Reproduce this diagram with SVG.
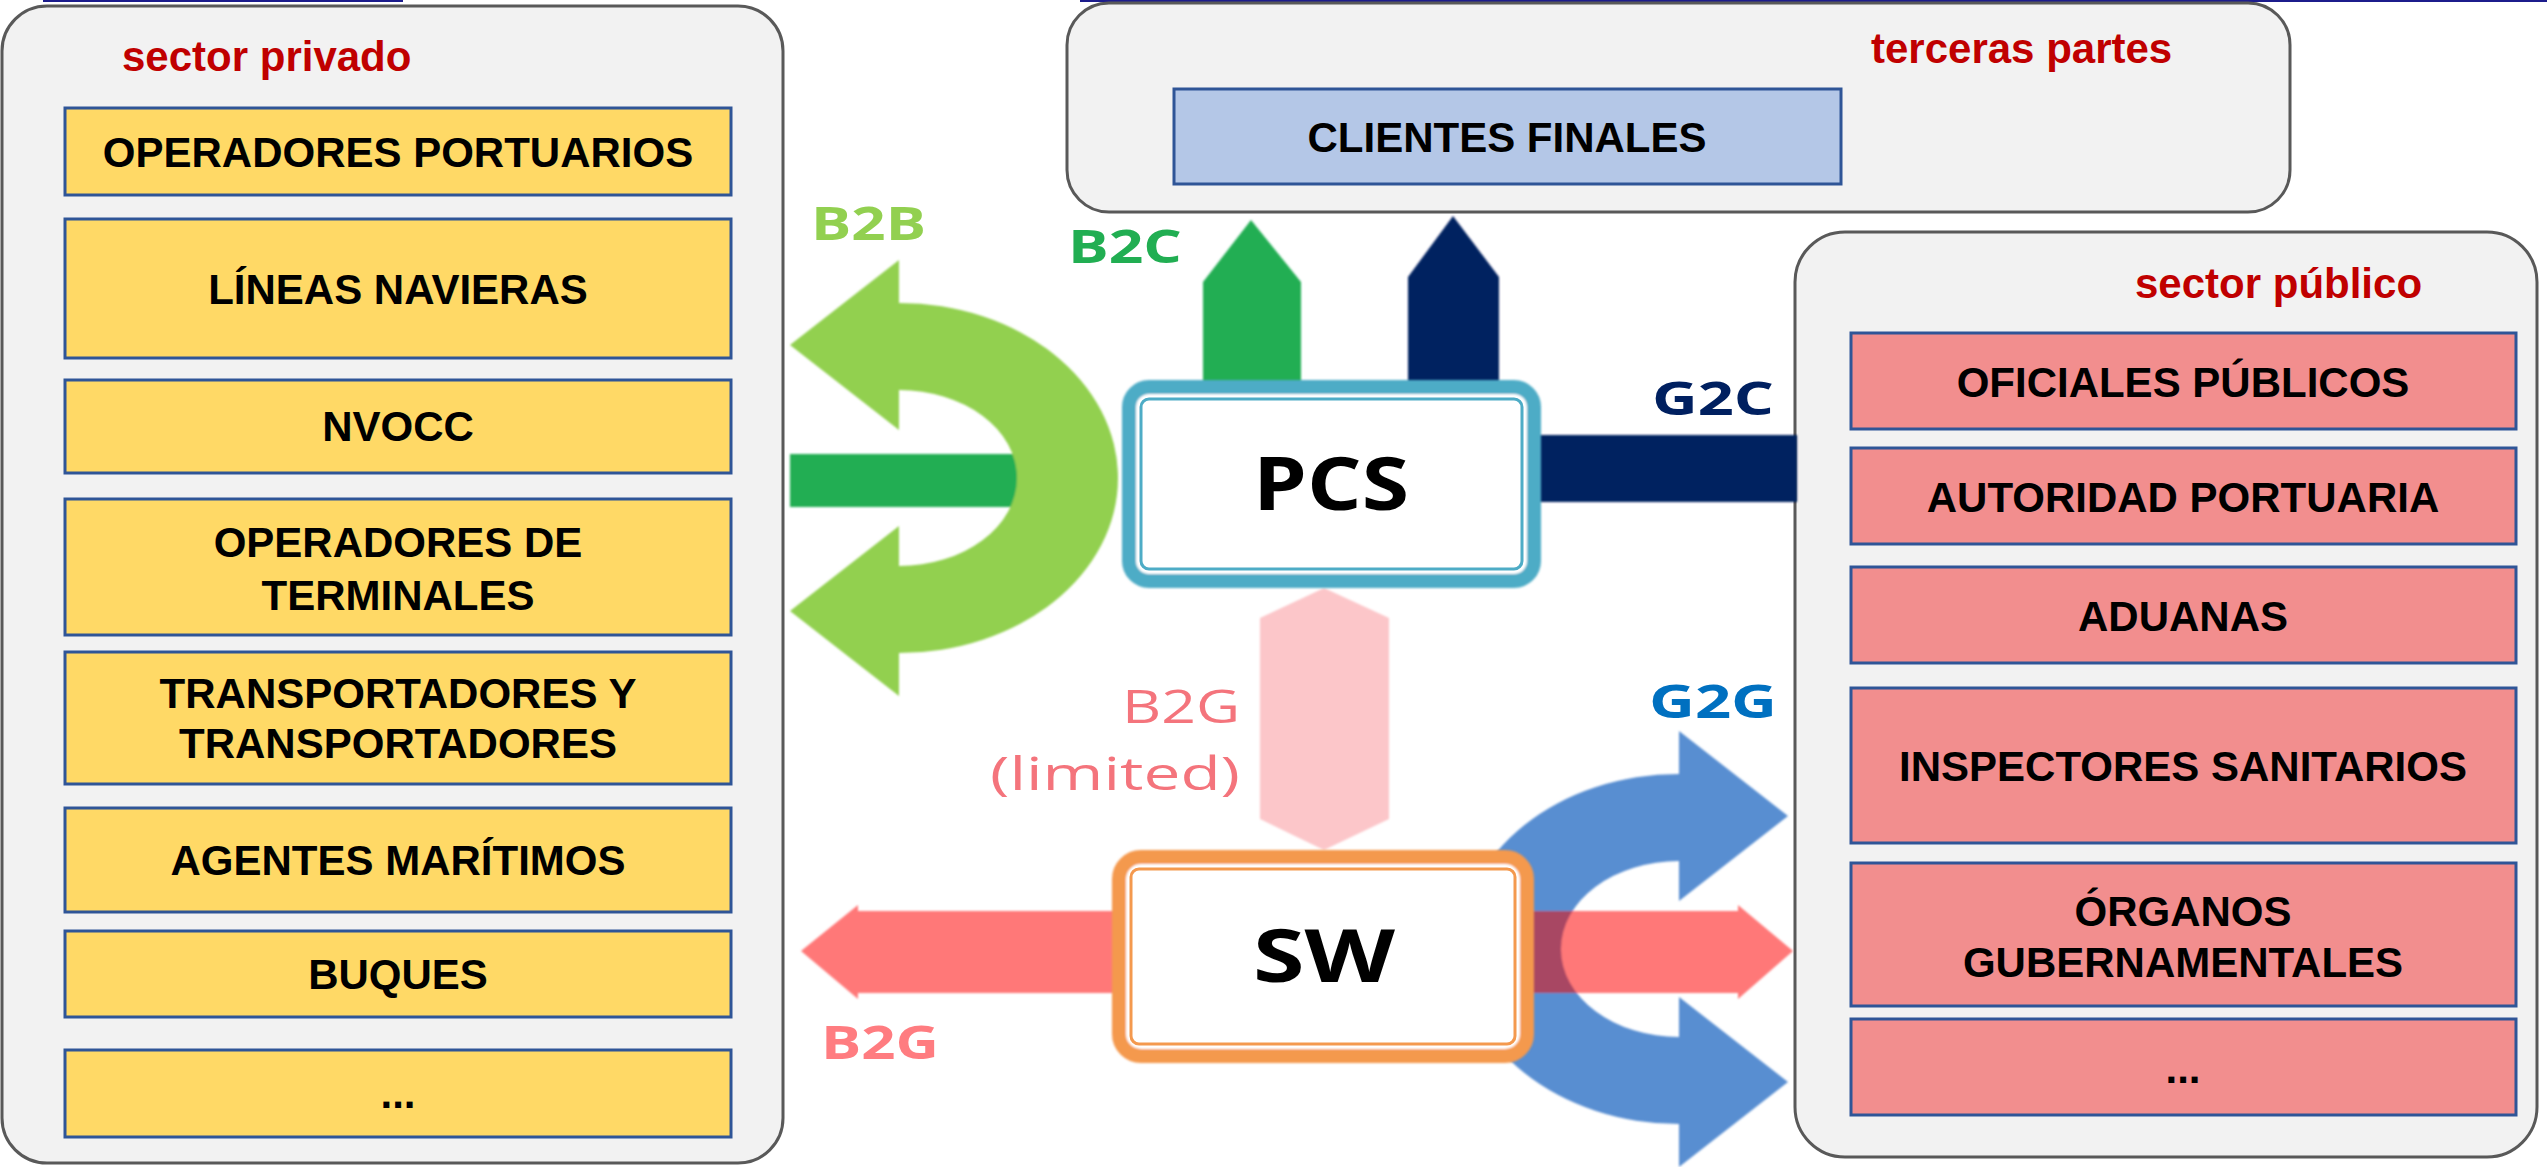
<svg xmlns="http://www.w3.org/2000/svg" xmlns:xlink="http://www.w3.org/1999/xlink" width="2547" height="1167" viewBox="0 0 2547 1167">
  <style>
    .panel { fill: #f2f2f2; stroke: #595959; stroke-width: 3; }
    .ybox { fill: #ffd966; stroke: #2f5597; stroke-width: 3; }
    .pbox { fill: #f28e8e; stroke: #2f5597; stroke-width: 3; }
    .bbox { fill: #b4c7e7; stroke: #2f5597; stroke-width: 3; }
    .lbl { font-family: "Liberation Sans", Arial, sans-serif; font-weight: 700; font-size: 42px; fill: #000; text-anchor: middle; }
    .sect { font-family: "Liberation Sans", Arial, sans-serif; font-weight: 700; font-size: 42px; fill: #c00000; }
    .tag { font-family: "Open Sans", "DejaVu Sans", sans-serif; font-weight: 700; font-size: 46px; }
    .tagr { font-family: "Open Sans", "DejaVu Sans", sans-serif; font-weight: 400; font-size: 46px; }
    .hub { font-family: "Open Sans", "DejaVu Sans", sans-serif; font-weight: 700; font-size: 74px; fill: #000; }
  </style>
  <defs>
    <!-- U-turn double arrow, bulging right, both heads pointing left -->
    <path id="uturn" d="M 899 303 A 219 175 0 0 1 899 653 L 899 696 L 790 611 L 899 526 L 899 566 A 118 88 0 0 0 899 390 L 899 430 L 790 345 L 899 260 Z"/>
    <clipPath id="g2gClip">
      <use xlink:href="#uturn" transform="translate(2578,471) scale(-1,1)"/>
    </clipPath>
    <filter id="soft" x="-5%" y="-5%" width="110%" height="110%">
      <feGaussianBlur stdDeviation="0.9"/>
    </filter>
  </defs>

  <rect width="2547" height="1167" fill="#ffffff"/>
  <!-- thin rules along the top edge -->
  <rect x="43" y="0" width="360" height="2" fill="#1c1c8c"/>
  <rect x="1080" y="0" width="1467" height="2" fill="#1c1c8c"/>

  <!-- private sector -->
  <g id="sector-privado">
    <rect class="panel" x="2" y="6" width="781" height="1157" rx="45"/>
    <text class="sect" x="122" y="71">sector privado</text>
  </g>
  <g id="operadores-portuarios">
    <rect class="ybox" x="65" y="108" width="666" height="87"/>
    <text class="lbl" x="398" y="167">OPERADORES PORTUARIOS</text>
  </g>
  <g id="lineas-navieras">
    <rect class="ybox" x="65" y="219" width="666" height="139"/>
    <text class="lbl" x="398" y="304">LÍNEAS NAVIERAS</text>
  </g>
  <g id="nvocc">
    <rect class="ybox" x="65" y="380" width="666" height="93"/>
    <text class="lbl" x="398" y="441">NVOCC</text>
  </g>
  <g id="operadores-terminales">
    <rect class="ybox" x="65" y="499" width="666" height="136"/>
    <text class="lbl" x="398" y="557">OPERADORES DE</text>
    <text class="lbl" x="398" y="610">TERMINALES</text>
  </g>
  <g id="transportadores">
    <rect class="ybox" x="65" y="652" width="666" height="132"/>
    <text class="lbl" x="398" y="708">TRANSPORTADORES Y</text>
    <text class="lbl" x="398" y="758">TRANSPORTADORES</text>
  </g>
  <g id="agentes-maritimos">
    <rect class="ybox" x="65" y="808" width="666" height="104"/>
    <text class="lbl" x="398" y="875">AGENTES MARÍTIMOS</text>
  </g>
  <g id="buques">
    <rect class="ybox" x="65" y="931" width="666" height="86"/>
    <text class="lbl" x="398" y="989">BUQUES</text>
  </g>
  <g id="privado-otros">
    <rect class="ybox" x="65" y="1050" width="666" height="87"/>
    <text class="lbl" x="398" y="1108">...</text>
  </g>

  <!-- third parties -->
  <g id="terceras-partes">
    <rect class="panel" x="1067" y="3" width="1223" height="209" rx="42"/>
    <text class="sect" x="1871" y="63">terceras partes</text>
  </g>
  <g id="clientes-finales">
    <rect class="bbox" x="1174" y="89" width="667" height="95"/>
    <text class="lbl" x="1507" y="152">CLIENTES FINALES</text>
  </g>

  <!-- public sector -->
  <g id="sector-publico">
    <rect class="panel" x="1795" y="232" width="742" height="925" rx="50"/>
    <text class="sect" x="2135" y="298">sector público</text>
  </g>
  <g id="oficiales-publicos">
    <rect class="pbox" x="1851" y="333" width="665" height="96"/>
    <text class="lbl" x="2183" y="397">OFICIALES PÚBLICOS</text>
  </g>
  <g id="autoridad-portuaria">
    <rect class="pbox" x="1851" y="448" width="665" height="96"/>
    <text class="lbl" x="2183" y="512">AUTORIDAD PORTUARIA</text>
  </g>
  <g id="aduanas">
    <rect class="pbox" x="1851" y="567" width="665" height="96"/>
    <text class="lbl" x="2183" y="631">ADUANAS</text>
  </g>
  <g id="inspectores-sanitarios">
    <rect class="pbox" x="1851" y="688" width="665" height="155"/>
    <text class="lbl" x="2183" y="781">INSPECTORES SANITARIOS</text>
  </g>
  <g id="organos-gubernamentales">
    <rect class="pbox" x="1851" y="863" width="665" height="143"/>
    <text class="lbl" x="2183" y="926">ÓRGANOS</text>
    <text class="lbl" x="2183" y="977">GUBERNAMENTALES</text>
  </g>
  <g id="publico-otros">
    <rect class="pbox" x="1851" y="1019" width="665" height="96"/>
    <text class="lbl" x="2183" y="1083">...</text>
  </g>

  <!-- exchange flows -->
  <g id="connectors">
    <g filter="url(#soft)">
      <!-- B2B: business bar and U-turn -->
      <rect x="790" y="454" width="262" height="53" fill="#21ae52"/>
      <use xlink:href="#uturn" fill="#92d050"/>
      <!-- B2C and G2C arrows up to end clients -->
      <polygon points="1203,386 1203,282 1251,220 1301,282 1301,386" fill="#21ae52"/>
      <polygon points="1408,386 1408,277 1453,216 1499,277 1499,386" fill="#002060"/>
      <!-- G2C bar to public sector -->
      <rect x="1535" y="435" width="262" height="67" fill="#002060"/>
      <!-- B2G (limited) between PCS and SW -->
      <polygon points="1324,588 1389,618 1389,819 1324,850 1260,819 1260,618" fill="#fcc6c9"/>
      <!-- G2G U-turn -->
      <use xlink:href="#uturn" transform="translate(2578,471) scale(-1,1)" fill="#588ed1"/>
      <!-- B2G horizontal double arrow -->
      <path d="M 801 951 L 858 905 L 858 911 L 1738 911 L 1738 905 L 1793 951 L 1738 999 L 1738 993 L 858 993 L 858 999 Z" fill="#ff7878"/>
      <rect x="1530" y="911" width="270" height="82" fill="#a84763" clip-path="url(#g2gClip)"/>
    </g>
    <text class="tag" x="811" y="240" fill="#92d050" textLength="115" lengthAdjust="spacingAndGlyphs">B2B</text>
    <text class="tag" x="1068" y="263" fill="#21ae52" textLength="114" lengthAdjust="spacingAndGlyphs">B2C</text>
    <text class="tag" x="1652" y="415" fill="#002060" textLength="122" lengthAdjust="spacingAndGlyphs">G2C</text>
    <text class="tag" x="1649" y="718" fill="#0070c0" textLength="128" lengthAdjust="spacingAndGlyphs">G2G</text>
    <text class="tagr" x="1122" y="723" fill="#f4747c" textLength="118" lengthAdjust="spacingAndGlyphs">B2G</text>
    <text class="tagr" x="990" y="790" fill="#f4747c" textLength="250" lengthAdjust="spacingAndGlyphs">(limited)</text>
    <text class="tag" x="821" y="1059" fill="#ff7c80" textLength="118" lengthAdjust="spacingAndGlyphs">B2G</text>
  </g>

  <!-- hubs -->
  <g id="pcs">
    <rect x="1129" y="387" width="405" height="194" rx="20" fill="#ffffff" stroke="#4eacc6" stroke-width="14" filter="url(#soft)"/>
    <rect x="1141" y="399" width="381" height="170" rx="8" fill="none" stroke="#4eacc6" stroke-width="3"/>
    <text class="hub" x="1253" y="510" textLength="156" lengthAdjust="spacingAndGlyphs">PCS</text>
  </g>
  <g id="sw">
    <rect x="1119" y="857" width="408" height="199" rx="22" fill="#ffffff" stroke="#f4994e" stroke-width="14" filter="url(#soft)"/>
    <rect x="1131" y="869" width="384" height="175" rx="8" fill="none" stroke="#f4994e" stroke-width="3"/>
    <text class="hub" x="1253" y="982" textLength="142" lengthAdjust="spacingAndGlyphs">SW</text>
  </g>
</svg>
